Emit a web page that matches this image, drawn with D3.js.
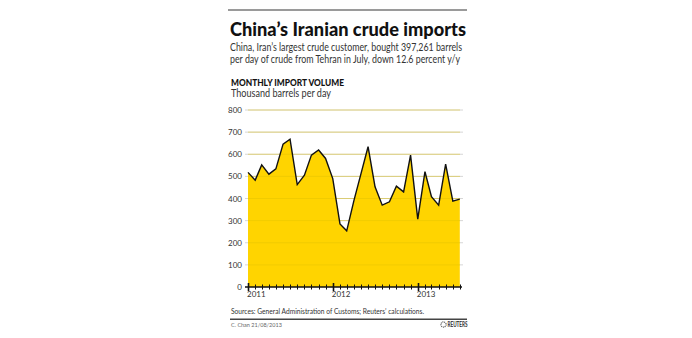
<!DOCTYPE html>
<html>
<head>
<meta charset="utf-8">
<script src="https://cdn.jsdelivr.net/npm/d3@7"></script>
<style>
  body { margin: 0; background: #fff; }
  text { font-family: Lato, "Open Sans", sans-serif; }
</style>
</head>
<body>
<div id="chart"></div>
<script>
// monthly imports, thousand barrels per day, Jan 2011 - Jul 2013
var months = ["2011-01","2011-02","2011-03","2011-04","2011-05","2011-06","2011-07","2011-08","2011-09","2011-10","2011-11","2011-12",
              "2012-01","2012-02","2012-03","2012-04","2012-05","2012-06","2012-07","2012-08","2012-09","2012-10","2012-11","2012-12",
              "2013-01","2013-02","2013-03","2013-04","2013-05","2013-06","2013-07"];
var volume = [518, 483, 552, 510, 534, 646, 668, 463, 505, 596, 619, 581,
              490, 285, 254, 390, 510, 634, 453, 370, 385, 456, 430, 596,
              307, 521, 408, 370, 555, 388, 397];
var yTicks = [0, 100, 200, 300, 400, 500, 600, 700, 800];
var yearTicks = ["2011-01", "2012-01", "2013-01"];

var W = 692, H = 338;
var parse = d3.timeParse("%Y-%m");
var data = months.map(function(m, i){ return {date: parse(m), value: volume[i]}; });

var svg = d3.select("#chart").append("svg")
    .attr("width", W)
    .attr("height", H);

var x = d3.scaleTime()
    .domain([parse("2011-01"), parse("2013-07")])
    .range([248, 459.8]);

var y = d3.scaleLinear()
    .domain([0, 800])
    .range([287, 110]);

// header
svg.append("rect").attr("x", 228).attr("y", 9).attr("width", 239).attr("height", 2).attr("fill", "#9a9a9a");

svg.append("text").attr("x", 230).attr("y", 35.5)
    .attr("font-size", 19).attr("font-weight", 900).attr("fill", "#111")
    .attr("textLength", 236).attr("lengthAdjust", "spacingAndGlyphs")
    .text("China\u2019s Iranian crude imports");

svg.append("text").attr("x", 230).attr("y", 50.5)
    .attr("font-size", 11.5).attr("fill", "#333")
    .attr("textLength", 232).attr("lengthAdjust", "spacingAndGlyphs")
    .text("China, Iran\u2019s largest crude customer, bought 397,261 barrels");

svg.append("text").attr("x", 230).attr("y", 62.5)
    .attr("font-size", 11.5).attr("fill", "#333")
    .attr("textLength", 230).attr("lengthAdjust", "spacingAndGlyphs")
    .text("per day of crude from Tehran in July, down 12.6 percent y/y");

svg.append("text").attr("x", 231).attr("y", 85.5)
    .attr("font-size", 9).attr("font-weight", 900).attr("fill", "#111")
    .attr("textLength", 113).attr("lengthAdjust", "spacingAndGlyphs")
    .text("MONTHLY IMPORT VOLUME");

svg.append("text").attr("x", 231).attr("y", 97)
    .attr("font-size", 11).attr("fill", "#333")
    .attr("textLength", 100).attr("lengthAdjust", "spacingAndGlyphs")
    .text("Thousand barrels per day");

// grid
svg.append("g").selectAll("line")
    .data(yTicks.filter(function(d){ return d > 0; }))
    .enter().append("line")
    .attr("x1", 245).attr("x2", 463)
    .attr("y1", function(d){ return y(d); })
    .attr("y2", function(d){ return y(d); })
    .attr("stroke", "#d6d6d6").attr("stroke-width", 1);

svg.append("g").selectAll("text")
    .data(yTicks)
    .enter().append("text")
    .attr("x", 242)
    .attr("y", function(d){ return y(d) + 3; })
    .attr("text-anchor", "end")
    .attr("font-size", 8).attr("fill", "#333")
    .text(function(d){ return d; });

// area + line
var area = d3.area()
    .x(function(d){ return x(d.date); })
    .y0(y(0))
    .y1(function(d){ return y(d.value); });

var line = d3.line()
    .x(function(d){ return x(d.date); })
    .y(function(d){ return y(d.value); });

svg.append("path").datum(data)
    .attr("d", area)
    .attr("fill", "#ffd400");

// grid shows faintly over the fill
svg.append("g").selectAll("line")
    .data(yTicks.filter(function(d){ return d > 0; }))
    .enter().append("line")
    .attr("x1", 248).attr("x2", 460)
    .attr("y1", function(d){ return y(d); })
    .attr("y2", function(d){ return y(d); })
    .attr("stroke", "#e0c000").attr("stroke-opacity", 0.45).attr("stroke-width", 1);

svg.append("path").datum(data)
    .attr("d", line)
    .attr("fill", "none")
    .attr("stroke", "#111")
    .attr("stroke-width", 1.4)
    .attr("stroke-linejoin", "miter");

// x axis
svg.append("line")
    .attr("x1", 245).attr("x2", 462)
    .attr("y1", y(0)).attr("y2", y(0))
    .attr("stroke", "#111").attr("stroke-width", 1.5);

var monthTicks = d3.timeMonth.range(parse("2011-01"), parse("2013-08"));
svg.append("g").selectAll("line")
    .data(monthTicks)
    .enter().append("line")
    .attr("x1", function(d){ return Math.round(x(d)) + 0.5; })
    .attr("x2", function(d){ return Math.round(x(d)) + 0.5; })
    .attr("y1", function(d){ return y(0) - (d.getMonth() === 0 ? 4 : 2.5); })
    .attr("y2", function(d){ return y(0) + (d.getMonth() === 0 ? 4 : 2.5); })
    .attr("stroke", "#111")
    .attr("stroke-width", function(d){ return d.getMonth() === 0 ? 1.6 : 1; });

svg.append("g").selectAll("text")
    .data(yearTicks.map(parse))
    .enter().append("text")
    .attr("x", function(d){ return x(d) - 1; })
    .attr("y", 297)
    .attr("font-size", 8).attr("fill", "#333")
    .text(d3.timeFormat("%Y"));

// footer
svg.append("text").attr("x", 231).attr("y", 313.5)
    .attr("font-size", 8).attr("fill", "#333")
    .attr("textLength", 193).attr("lengthAdjust", "spacingAndGlyphs")
    .text("Sources: General Administration of Customs; Reuters\u2019 calculations.");

svg.append("rect").attr("x", 230).attr("y", 318.5).attr("width", 237).attr("height", 1.5).attr("fill", "#444");

svg.append("text").attr("x", 231).attr("y", 327)
    .attr("font-size", 5.5).attr("fill", "#666")
    .text("C. Chan 21/08/2013");

svg.append("circle").attr("cx", 443.5).attr("cy", 324.5).attr("r", 2.6)
    .attr("fill", "none").attr("stroke", "#555").attr("stroke-width", 1.2).attr("stroke-dasharray", "1 0.8");
svg.append("text").attr("x", 447.5).attr("y", 327)
    .attr("font-size", 6.5).attr("font-weight", 900).attr("fill", "#444")
    .attr("textLength", 20).attr("lengthAdjust", "spacingAndGlyphs")
    .text("REUTERS");
</script>
</body>
</html>
